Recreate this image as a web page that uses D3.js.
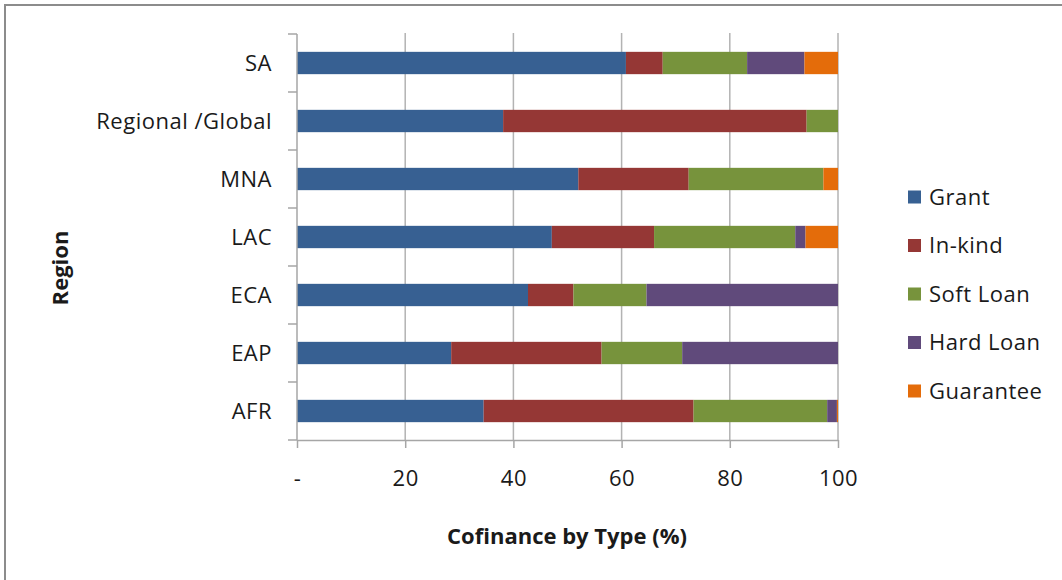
<!DOCTYPE html>
<html>
<head>
<meta charset="utf-8">
<script src="https://cdn.jsdelivr.net/npm/d3@7"></script>
<style>
  html, body { margin: 0; padding: 0; background: #fff; }
  svg { display: block; }
  text { font-family: "Open Sans", Lato, sans-serif; fill: #1a1a1a; }
  .lbl { letter-spacing: 0.5px; }
</style>
</head>
<body>
<svg id="chart" width="1062" height="580"></svg>
<script>
// Regions, listed top to bottom
const regions = ["SA", "Regional /Global", "MNA", "LAC", "ECA", "EAP", "AFR"];

// Cofinance share by type (%) for each region
const grant     = [60.8, 38.1, 52.0, 47.1, 42.7, 28.5, 34.5];
const inKind    = [ 6.8, 56.1, 20.4, 18.9,  8.4, 27.8, 38.8];
const softLoan  = [15.6,  5.8, 24.9, 26.1, 13.5, 14.9, 24.7];
const hardLoan  = [10.6,  0.0,  0.0,  1.9, 35.4, 28.8,  1.8];
const guarantee = [ 6.2,  0.0,  2.7,  6.0,  0.0,  0.0,  0.2];

const seriesNames = ["Grant", "In-kind", "Soft Loan", "Hard Loan", "Guarantee"];
const seriesColors = ["#376092", "#953735", "#77933C", "#604A7B", "#E46C0A"];
const xTicks = [0, 20, 40, 60, 80, 100];
const xTickLabels = ["-", "20", "40", "60", "80", "100"];

const rows = regions.map((r, i) => ({
  region: r,
  "Grant": grant[i],
  "In-kind": inKind[i],
  "Soft Loan": softLoan[i],
  "Hard Loan": hardLoan[i],
  "Guarantee": guarantee[i]
}));

const labelFont = "22px";
const titleFont = "22px";
const svg = d3.select("#chart");

// Outer chart frame
svg.append("rect")
  .attr("x", 5).attr("y", 5).attr("width", 1070).attr("height", 590)
  .attr("fill", "none").attr("stroke", "#8c8c8c").attr("stroke-width", 2);

const plot = { left: 297, right: 838, top: 34, bottom: 440 };

const x = d3.scaleLinear().domain([0, 100]).range([plot.left, plot.right]);
const y = d3.scaleBand().domain(regions).range([plot.top, plot.bottom])
  .paddingInner(0.615).paddingOuter(0.3075);

// Vertical gridlines
svg.append("g").selectAll("line")
  .data(xTicks.filter(t => t > 0))
  .join("line")
  .attr("x1", d => x(d)).attr("x2", d => x(d))
  .attr("y1", plot.top - 1).attr("y2", plot.bottom)
  .attr("stroke", "#b3b3b3").attr("stroke-width", 1.5);

// Stacked bars
const stack = d3.stack().keys(seriesNames);
const layers = stack(rows);

svg.append("g").selectAll("g")
  .data(layers)
  .join("g")
  .attr("fill", (d, i) => seriesColors[i])
  .selectAll("rect")
  .data(d => d)
  .join("rect")
  .attr("x", d => x(d[0]))
  .attr("width", d => Math.max(0, x(d[1]) - x(d[0])))
  .attr("y", d => y(d.data.region))
  .attr("height", y.bandwidth());

// Y axis (category) with ticks at band boundaries
const yAxisG = svg.append("g");
yAxisG.append("line")
  .attr("x1", plot.left).attr("x2", plot.left)
  .attr("y1", plot.top).attr("y2", plot.bottom)
  .attr("stroke", "#a6a6a6").attr("stroke-width", 1.5);
const step = (plot.bottom - plot.top) / regions.length;
yAxisG.selectAll("line.tick")
  .data(d3.range(regions.length + 1))
  .join("line")
  .attr("class", "tick")
  .attr("x1", plot.left - 9).attr("x2", plot.left)
  .attr("y1", d => plot.top + d * step).attr("y2", d => plot.top + d * step)
  .attr("stroke", "#a6a6a6").attr("stroke-width", 1.5);
yAxisG.selectAll("text")
  .data(regions)
  .join("text")
  .attr("class", "lbl")
  .attr("x", 272)
  .attr("y", d => y(d) + y.bandwidth() / 2)
  .attr("dy", "0.36em")
  .attr("text-anchor", "end")
  .style("font-size", labelFont)
  .text(d => d);

// X axis
const xAxis = d3.axisBottom(x)
  .tickValues(xTicks)
  .tickFormat((d, i) => xTickLabels[i])
  .tickSizeInner(8).tickSizeOuter(0).tickPadding(22);
const xAxisG = svg.append("g")
  .attr("transform", `translate(0,${plot.bottom})`)
  .call(xAxis);
xAxisG.select(".domain").attr("stroke", "#a6a6a6").attr("stroke-width", 1.5);
xAxisG.selectAll(".tick line").attr("stroke", "#a6a6a6").attr("stroke-width", 1.5);
xAxisG.selectAll(".tick text")
  .attr("class", "lbl")
  .style("font-size", labelFont)
  .style("font-family", "'Open Sans', Lato, sans-serif")
  .attr("fill", "#1a1a1a");

// Axis titles
svg.append("text")
  .attr("x", 567)
  .attr("y", 544)
  .attr("text-anchor", "middle")
  .style("font-size", titleFont)
  .style("font-weight", "bold")
  .text("Cofinance by Type (%)");

svg.append("text")
  .attr("transform", "translate(68,268) rotate(-90)")
  .attr("text-anchor", "middle")
  .style("font-size", titleFont)
  .style("font-weight", "bold")
  .text("Region");

// Legend
const legend = svg.append("g");
const legendY = d3.scalePoint().domain(seriesNames).range([197, 391]);
seriesNames.forEach((name, i) => {
  const cy = legendY(name);
  legend.append("rect")
    .attr("x", 908).attr("y", cy - 6.5)
    .attr("width", 13).attr("height", 13)
    .attr("fill", seriesColors[i]);
  legend.append("text")
    .attr("class", "lbl")
    .attr("x", 929).attr("y", cy)
    .attr("dy", "0.36em")
    .style("font-size", labelFont)
    .text(name);
});
</script>
</body>
</html>
